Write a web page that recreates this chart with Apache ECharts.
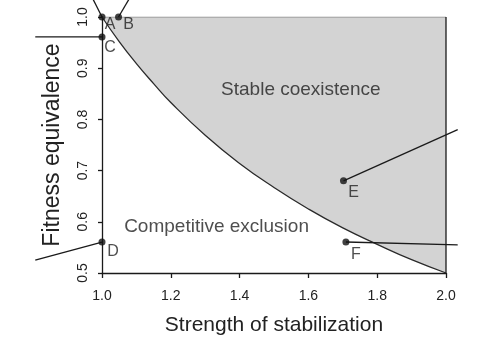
<!DOCTYPE html>
<html><head><meta charset="utf-8">
<script src="https://cdn.jsdelivr.net/npm/echarts@6/dist/echarts.min.js"></script>
<style>html,body{margin:0;padding:0;background:#fff}#c{width:479px;height:361px}</style>
</head><body><div id="c"></div>
<script>
// Boundary curve
const curveX = [1.0, 1.05, 1.1, 1.15, 1.2, 1.3, 1.4, 1.5, 1.6, 1.7, 1.8, 1.9, 2.0];
const curveY = [1.0, 0.952, 0.909, 0.870, 0.833, 0.769, 0.714, 0.667, 0.625, 0.588, 0.556, 0.526, 0.5];
// Labelled points
const pointNames = ['A', 'B', 'C', 'D', 'E', 'F'];
const pointX = [1.0, 1.048, 1.0, 1.0, 1.702, 1.709];
const pointY = [1.0, 1.0, 0.961, 0.5605, 0.680, 0.5605];
// Far ends of the lines leaving each point
const endX = [0.970, 1.083, 0.806, 0.806, 2.034, 2.034];
const endY = [1.040, 1.040, 0.961, 0.525, 0.780, 0.555];
// Region names
const regionNames = ['Stable coexistence', 'Competitive exclusion'];
const regionX = [1.578, 1.333];
const regionY = [0.857, 0.590];
// Tick labels
const xTicks = ['1.0', '1.2', '1.4', '1.6', '1.8', '2.0'];
const yTicks = ['0.5', '0.6', '0.7', '0.8', '0.9', '1.0'];

const labelOffsets = [[8, 8], [10, 8], [8, 11], [11, 10], [10, 12], [10, 13]];
const FONT = '"Liberation Sans", Arial, Helvetica, sans-serif';
const curve = curveX.map((x, i) => [x, curveY[i]]);
const polygon = curve.concat([[2.0, 1.0], [1.0, 1.0]]);

const series = [];
series.push({
  type: 'custom', silent: true, clip: false, z: 1,
  data: polygon,
  renderItem: function (params, api) {
    if (params.dataIndex !== 0) return null;
    const pts = polygon.map(p => api.coord(p));
    return { type: 'polygon', shape: { points: pts }, style: { fill: '#d3d3d3' } };
  }
});
series.push({ type: 'line', data: curve, smooth: true, symbol: 'none', z: 3,
  lineStyle: { color: '#2a2a2a', width: 1.3 } });
series.push({ type: 'line', data: [[1.0, 1.0], [2.0, 1.0]], symbol: 'none', z: 2,
  lineStyle: { color: '#8a8a8a', width: 1 } });
series.push({ type: 'line', data: [[2.0, 0.5], [2.0, 1.0]], symbol: 'none', z: 3,
  lineStyle: { color: '#1a1a1a', width: 1.3 } });
// segments leaving each point (custom series, not clipped to the grid)
series.push({
  type: 'custom', silent: true, clip: false, z: 4,
  data: pointNames.map((n, i) => [pointX[i], pointY[i], endX[i], endY[i]]),
  renderItem: function (params, api) {
    const p1 = api.coord([api.value(0), api.value(1)]);
    const p2 = api.coord([api.value(2), api.value(3)]);
    return { type: 'line', shape: { x1: p1[0], y1: p1[1], x2: p2[0], y2: p2[1] },
      style: { stroke: '#1a1a1a', lineWidth: 1.3 } };
  }
});
series.push({
  type: 'scatter', clip: false, z: 5, symbolSize: 7,
  itemStyle: { color: '#111' },
  data: pointNames.map((n, i) => ({
    name: n, value: [pointX[i], pointY[i]],
    label: { show: true, position: 'inside', offset: labelOffsets[i], formatter: n,
      color: '#222', fontSize: 16, fontFamily: FONT }
  }))
});
series.push({
  type: 'scatter', clip: false, z: 5, symbolSize: 0, silent: true,
  data: regionNames.map((n, i) => ({
    name: n, value: [regionX[i], regionY[i]],
    label: { show: true, position: 'inside', formatter: n, color: '#222', fontSize: 19, fontFamily: FONT }
  }))
});

const chart = echarts.init(document.getElementById('c'), null, { renderer: 'canvas' });
chart.setOption({
  animation: false,
  grid: { left: 102, right: 33, top: 17, bottom: 88 },
  xAxis: {
    type: 'value', min: 1.0, max: 2.0, interval: 0.2,
    name: 'Strength of stabilization', nameLocation: 'middle', nameGap: 42,
    nameTextStyle: { color: '#222', fontSize: 21, fontFamily: FONT },
    axisLine: { lineStyle: { color: '#1a1a1a', width: 1.3 } },
    axisTick: { show: true, length: 5, lineStyle: { color: '#1a1a1a', width: 1.3 } },
    axisLabel: { color: '#222', fontSize: 14, fontFamily: FONT, margin: 16,
      formatter: (v) => xTicks[Math.round((v - 1.0) / 0.2)] },
    splitLine: { show: false }
  },
  yAxis: {
    type: 'value', min: 0.5, max: 1.0, interval: 0.1,
    name: 'Fitness equivalence', nameLocation: 'middle', nameGap: 38,
    nameTextStyle: { color: '#222', fontSize: 23, fontFamily: FONT },
    axisLine: { show: true, lineStyle: { color: '#1a1a1a', width: 1.3 } },
    axisTick: { show: true, length: 4, lineStyle: { color: '#1a1a1a', width: 1.3 } },
    axisLabel: { color: '#222', fontSize: 14, fontFamily: FONT, margin: 12, rotate: 90,
      formatter: (v) => yTicks[Math.round((v - 0.5) / 0.1)] },
    splitLine: { show: false }
  },
  series: series
});
</script></body></html>
